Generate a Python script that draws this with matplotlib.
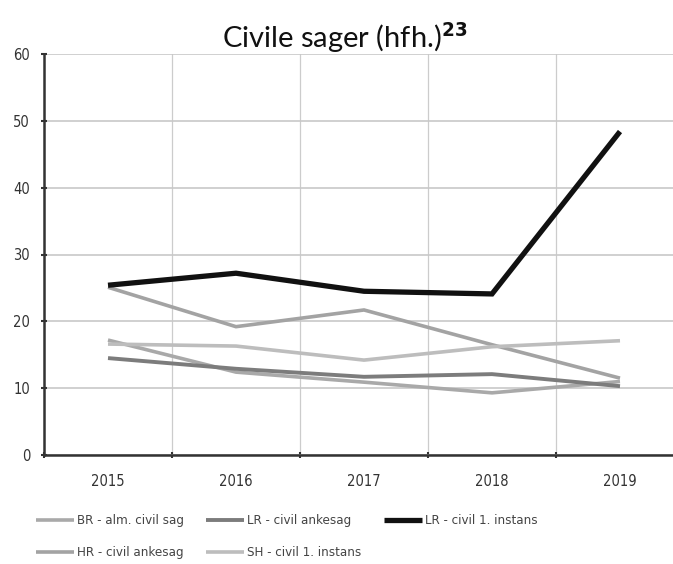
"""
Civile sager (hfh.) - linjediagram
"""

import matplotlib
matplotlib.use("Agg")
import matplotlib.pyplot as plt

plt.rcParams['font.family'] = ['DejaVu Sans']
plt.rcParams['font.stretch'] = 'condensed'

years = ['2015', '2016', '2017', '2018', '2019']

br_alm_civil = [17.2, 12.4, 10.9, 9.3, 11.0]
lr_civil_anke = [14.5, 12.9, 11.7, 12.1, 10.3]
lr_civil_1inst = [25.4, 27.2, 24.5, 24.1, 48.4]
hr_civil_anke = [25.1, 19.2, 21.7, 16.5, 11.5]
sh_civil_1inst = [16.6, 16.3, 14.2, 16.2, 17.1]

y_ticks = [0, 10, 20, 30, 40, 50, 60]

fig = plt.figure(figsize=(6.73, 5.64), dpi=100)
# plot area runs past the right edge, like the cropped original
ax = fig.add_axes([44 / 673, 1 - 455 / 564, 640 / 673, 401 / 564])

x = range(len(years))
series = [
    (br_alm_civil, 'BR - alm. civil sag', '#a9a9a9', 2.6),
    (hr_civil_anke, 'HR - civil ankesag', '#a3a3a3', 2.6),
    (lr_civil_anke, 'LR - civil ankesag', '#7c7c7c', 2.8),
    (sh_civil_1inst, 'SH - civil 1. instans', '#bdbdbd', 2.6),
    (lr_civil_1inst, 'LR - civil 1. instans', '#111111', 3.8),
]
for vals, label, color, lw in series:
    ax.plot(x, vals, color=color, linewidth=lw, label=label,
            solid_joinstyle='miter', solid_capstyle='butt')

ax.set_xlim(-0.5, 4.5)
ax.set_ylim(0, 60)
ax.set_yticks(y_ticks)
ax.set_xticks(list(x))
ax.set_xticklabels(years)
ax.set_xticks([i + 0.5 for i in range(-1, 5)], minor=True)

ax.grid(True, axis='y', color='#c8c8c8', linewidth=1.2)
ax.grid(True, axis='x', which='minor', color='#cccccc', linewidth=0.9)
ax.set_axisbelow(True)

for s in ['top', 'right']:
    ax.spines[s].set_visible(False)
for s in ['left', 'bottom']:
    ax.spines[s].set_color('#333333')
    ax.spines[s].set_linewidth(1.8)

ax.tick_params(axis='x', which='major', length=0, pad=14, labelsize=10.5,
               labelcolor='#333333')
ax.tick_params(axis='x', which='minor', length=4, width=1.5, color='#333333',
               direction='inout')
ax.tick_params(axis='y', length=4, width=1.5, color='#333333', pad=8,
               labelsize=10.5, labelcolor='#333333', direction='inout')

fig.text(345 / 673, 1 - 38 / 564, r'Civile sager (hfh.)$^{\mathbf{23}}$',
         ha='center', va='center', fontsize=21, family=['Lato', 'DejaVu Sans'],
         stretch='normal', color='#111111')

fig.legend(loc='lower left', bbox_to_anchor=(24 / 673, -0.013), ncol=3,
           frameon=False, fontsize=9.5, handlelength=2.9, handletextpad=0.2,
           columnspacing=1.7, labelspacing=1.45, labelcolor='#444444')

plt.savefig('out.png', dpi=100)
plt.close()
